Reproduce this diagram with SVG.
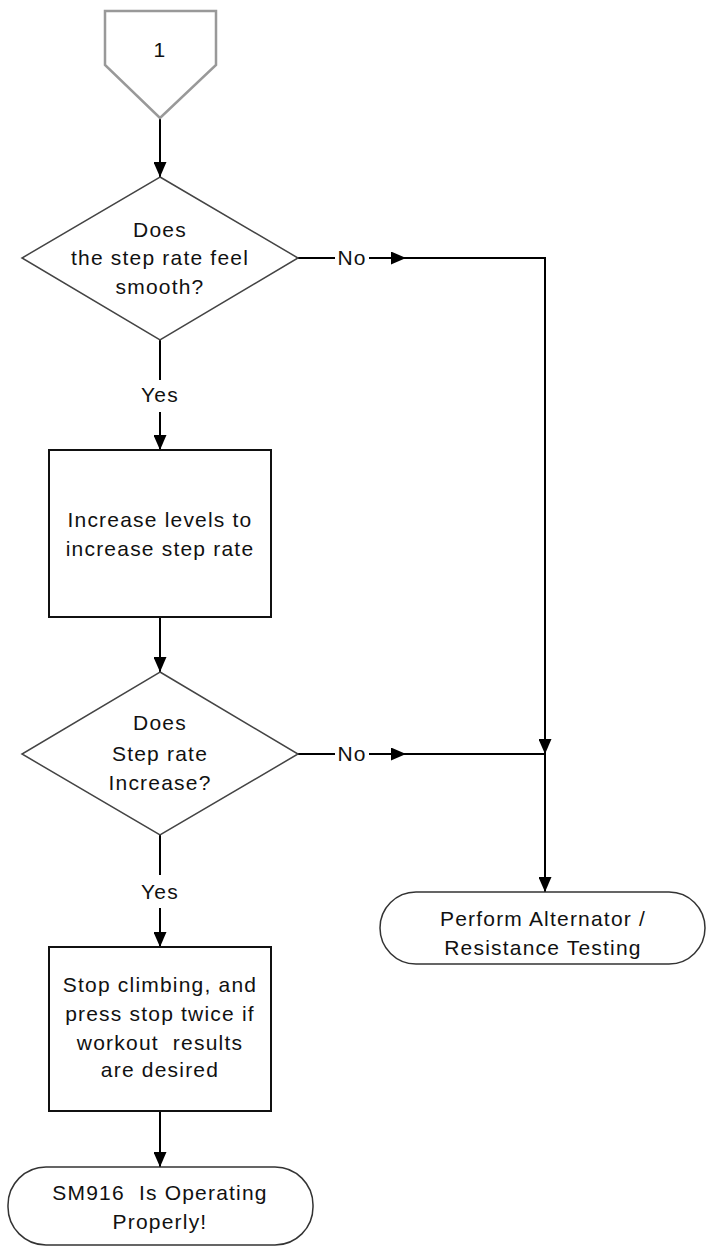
<svg xmlns="http://www.w3.org/2000/svg" width="706" height="1247" viewBox="0 0 706 1247">
<style>
text{font-family:"Liberation Sans",Arial,sans-serif;font-size:21px;fill:#111;text-anchor:middle;letter-spacing:1.2px;white-space:pre}
.ln{stroke:#000;stroke-width:2;fill:none}
.dia{fill:#fff;stroke:#444;stroke-width:1.5}
.box{fill:#fff;stroke:#111;stroke-width:2}
.term{fill:#fff;stroke:#333;stroke-width:1.5}
.off{fill:#fff;stroke:#999;stroke-width:2.5}
</style>
<defs>
<marker id="ah" markerWidth="15" markerHeight="13" refX="15" refY="6.5" orient="auto" markerUnits="userSpaceOnUse">
<path d="M0,0 L15,6.5 L0,13 Z" fill="#000"/>
</marker>
</defs>
<rect width="706" height="1247" fill="#fff"/>
<g id="connectors">
<line class="ln" x1="160" y1="118" x2="160" y2="177" marker-end="url(#ah)"/>
<line class="ln" x1="160" y1="340" x2="160" y2="380"/>
<line class="ln" x1="160" y1="412" x2="160" y2="450" marker-end="url(#ah)"/>
<line class="ln" x1="160" y1="617" x2="160" y2="672" marker-end="url(#ah)"/>
<line class="ln" x1="160" y1="835" x2="160" y2="875"/>
<line class="ln" x1="160" y1="908" x2="160" y2="947" marker-end="url(#ah)"/>
<line class="ln" x1="160" y1="1111" x2="160" y2="1167" marker-end="url(#ah)"/>
<line class="ln" x1="298" y1="258" x2="335" y2="258"/>
<line class="ln" x1="369" y1="258" x2="406" y2="258" marker-end="url(#ah)"/>
<polyline class="ln" points="404,258 545,258 545,754" marker-end="url(#ah)"/>
<line class="ln" x1="298" y1="754" x2="335" y2="754"/>
<line class="ln" x1="369" y1="754" x2="406" y2="754" marker-end="url(#ah)"/>
<line class="ln" x1="404" y1="754" x2="545" y2="754"/>
<line class="ln" x1="545" y1="754" x2="545" y2="892" marker-end="url(#ah)"/>
<text x="352" y="265">No</text>
<text x="352" y="761">No</text>
<text x="160" y="402">Yes</text>
<text x="160" y="899">Yes</text>
</g>
<g id="offpage">
<polygon class="off" points="105,11 216,11 216,65 160,118 105,65"/>
<text x="160" y="57">1</text>
</g>
<g id="decision1">
<polygon class="dia" points="160,177 298,258 160,340 22,258"/>
<text x="160" y="237">Does</text>
<text x="160" y="265">the step rate feel</text>
<text x="160" y="294">smooth?</text>
</g>
<g id="process1">
<rect class="box" x="49" y="450" width="222" height="167"/>
<text x="160" y="527">Increase levels to</text>
<text x="160" y="556">increase step rate</text>
</g>
<g id="decision2">
<polygon class="dia" points="160,672 298,754 160,835 22,754"/>
<text x="160" y="730">Does</text>
<text x="160" y="761">Step rate</text>
<text x="160" y="790">Increase?</text>
</g>
<g id="terminal1">
<rect class="term" x="380" y="892" width="325" height="72" rx="36" ry="36"/>
<text x="543" y="926">Perform Alternator /</text>
<text x="543" y="955">Resistance Testing</text>
</g>
<g id="process2">
<rect class="box" x="49" y="947" width="222" height="164"/>
<text x="160" y="992">Stop climbing, and</text>
<text x="160" y="1021">press stop twice if</text>
<text x="160" y="1050">workout  results</text>
<text x="160" y="1077">are desired</text>
</g>
<g id="terminal2">
<rect class="term" x="8" y="1167" width="305" height="78" rx="38" ry="38"/>
<text x="160" y="1200">SM916  Is Operating</text>
<text x="160" y="1229">Properly!</text>
</g>
</svg>
